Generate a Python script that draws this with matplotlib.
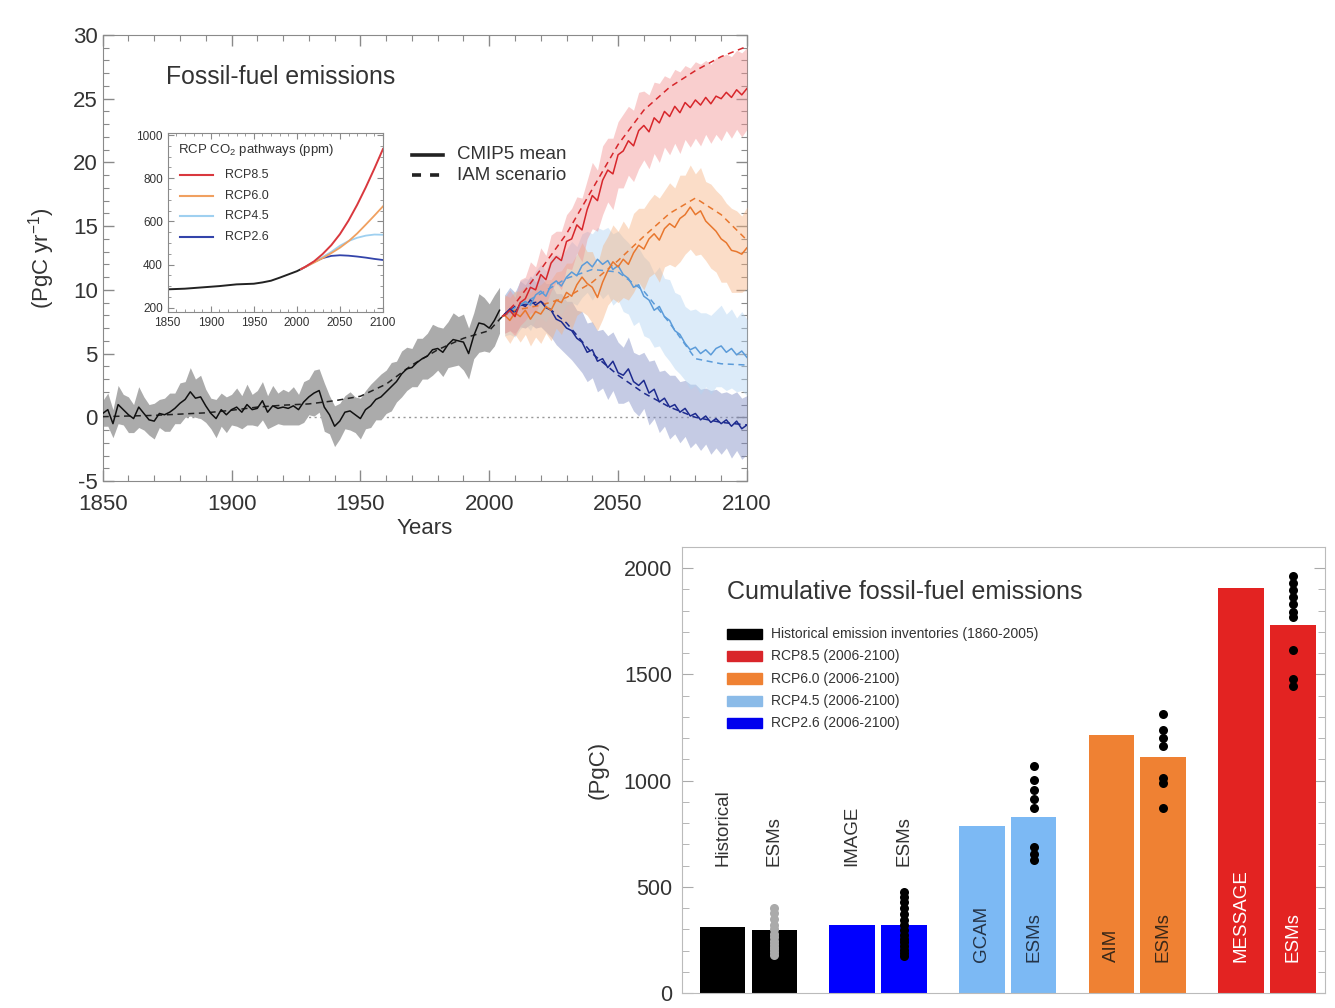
import numpy as np
import matplotlib
matplotlib.use('Agg')
import matplotlib.pyplot as plt
from matplotlib.patches import Rectangle
from matplotlib.ticker import MultipleLocator

plt.rcParams['font.family'] = ['Liberation Sans', 'DejaVu Sans']
plt.rcParams['mathtext.default'] = 'regular'
plt.rcParams['axes.unicode_minus'] = False

# ---------------- data: annual fossil-fuel emissions (PgC/yr) ----------------
hist_years = np.arange(1850, 2005, 2)
hist_mean = [0.3, 0.6, -0.5, 1.0, 0.6, 0.2, -0.1, 0.8, 0.3, -0.2,
             -0.3, 0.3, 0.2, 0.4, 0.7, 1.1, 1.4, 2.0, 1.5, 1.6,
             0.9, 0.3, -0.1, 0.6, 0.2, 0.6, 0.8, 0.4, 1.0, 0.6,
             0.7, 1.3, 0.4, 0.9, 0.7, 0.8, 0.7, 0.9, 0.6, 1.2,
             1.6, 1.9, 2.1, 0.8, 0.2, -0.7, -0.3, 0.4, 0.5, 0.2,
             -0.1, 0.6, 0.9, 1.4, 1.6, 2.0, 2.4, 2.8, 3.4, 3.8,
             3.9, 4.3, 4.6, 4.8, 5.3, 5.4, 5.1, 5.7, 6.1, 6.0,
             5.9, 5.0, 6.4, 7.4, 7.3, 7.0, 7.6, 8.4]
hist_spread = [1.0, 1.3, 1.1, 1.5, 1.2, 1.4, 1.1, 1.6, 1.3, 1.2,
               1.4, 1.1, 1.3, 1.5, 1.2, 1.6, 1.4, 1.9, 1.5, 1.7,
               1.3, 1.2, 1.5, 1.3, 1.4, 1.2, 1.5, 1.3, 1.6, 1.2,
               1.4, 1.5, 1.3, 1.6, 1.2, 1.4, 1.3, 1.5, 1.2, 1.6,
               1.4, 1.8, 1.7, 1.9, 1.5, 1.6, 1.4, 1.3, 1.5, 1.4,
               1.6, 1.5, 1.7, 1.6, 1.8, 1.7, 1.9, 1.6, 1.8, 1.7,
               1.5, 1.9, 1.6, 1.8, 2.0, 1.7, 1.9, 1.8, 2.1, 1.9,
               2.2, 2.0, 1.8, 2.3, 2.1, 1.9, 2.0, 1.8]

inv_years = [1850, 1860, 1870, 1880, 1890, 1900, 1910, 1920, 1930, 1940,
             1950, 1960, 1970, 1980, 1990, 2000, 2005]
inv_emis = [0.05, 0.1, 0.15, 0.25, 0.35, 0.55, 0.8, 0.95, 1.05, 1.3,
            1.65, 2.6, 4.1, 5.3, 6.2, 6.8, 7.9]

scen_years = np.arange(2006, 2101, 2)
rcp85_mean = [8.0, 8.4, 7.9, 9.0, 9.3, 10.2, 10.0, 11.2, 10.8, 12.1,
              12.6, 12.3, 13.8, 14.0, 15.1, 14.7, 16.3, 17.4, 17.0, 18.6,
              19.4, 19.1, 20.6, 20.9, 21.7, 21.3, 22.5, 22.9, 22.4, 23.5,
              23.1, 24.0, 23.6, 24.4, 23.9, 24.7, 24.3, 24.9, 24.5, 25.1,
              24.6, 25.2, 25.0, 25.5, 25.1, 25.7, 25.3, 25.8]
rcp85_spread = [1.4, 1.6, 1.5, 1.8, 1.7, 2.0, 1.8, 2.1, 1.9, 2.2,
                2.0, 2.3, 2.1, 2.4, 2.2, 2.5, 2.3, 2.6, 2.4, 2.7,
                2.5, 2.8, 2.6, 2.9, 2.7, 2.8, 3.0, 2.7, 2.9, 2.8,
                3.1, 2.8, 3.0, 2.9, 3.2, 2.9, 3.1, 3.0, 3.2, 2.9,
                3.1, 3.0, 3.3, 3.0, 3.2, 3.1, 3.3, 3.2]
rcp60_mean = [8.0, 7.6, 8.2, 7.9, 8.4, 7.7, 8.3, 8.1, 8.7, 8.4,
              9.2, 9.0, 9.8, 9.5, 10.4, 11.0, 10.5, 10.2, 9.4, 10.6,
              11.5, 12.2, 11.8, 12.4, 12.0, 12.9, 13.5, 13.2, 14.0, 14.4,
              13.9, 14.8, 15.2, 14.9, 15.6, 15.9, 16.5, 15.9, 16.2, 15.4,
              15.0, 14.6, 14.0, 13.7, 13.1, 13.0, 12.8, 13.3]
rcp60_spread = [1.6, 1.8, 1.7, 2.0, 1.9, 2.1, 2.0, 2.3, 2.1, 2.4,
                2.2, 2.5, 2.3, 2.6, 2.4, 2.7, 2.5, 2.8, 2.6, 2.9,
                2.7, 2.9, 2.8, 3.0, 2.8, 3.1, 2.9, 3.2, 3.0, 3.1,
                3.3, 3.0, 3.2, 3.1, 3.4, 3.1, 3.3, 3.2, 3.4, 3.1,
                3.3, 3.2, 3.4, 3.1, 3.3, 3.2, 3.0, 3.2]
rcp45_mean = [8.0, 8.3, 8.0, 8.8, 9.1, 8.8, 9.6, 9.9, 9.5, 10.4,
              10.7, 10.3, 11.0, 11.4, 11.1, 11.9, 12.2, 11.8, 12.4, 12.0,
              12.3, 11.6, 11.9, 11.2, 10.9, 10.2, 10.4, 9.5, 9.2, 8.4,
              8.7, 7.9, 7.6, 6.8, 6.5, 5.8, 5.3, 5.5, 5.0, 5.3,
              4.9, 5.4, 5.6, 5.1, 5.4, 4.9, 5.2, 4.7]
rcp45_spread = [1.6, 1.8, 1.7, 1.9, 1.8, 2.0, 1.9, 2.1, 2.0, 2.2,
                2.1, 2.3, 2.2, 2.4, 2.3, 2.5, 2.4, 2.6, 2.5, 2.7,
                2.6, 2.8, 2.7, 2.9, 2.8, 3.0, 2.9, 3.1, 3.0, 2.9,
                3.1, 3.0, 3.2, 3.0, 3.1, 2.9, 3.1, 3.0, 3.2, 2.9,
                3.1, 3.0, 3.2, 3.0, 3.1, 2.9, 3.1, 3.0]
rcp26_mean = [8.1, 8.5, 8.2, 8.9, 8.7, 9.2, 8.8, 9.1, 8.6, 8.4,
              7.7, 7.5, 7.0, 6.8, 6.2, 5.9, 5.1, 5.3, 4.4, 4.6,
              3.9, 4.4, 3.5, 3.3, 3.8, 2.8, 2.5, 2.9, 1.9, 2.2,
              1.2, 1.5, 0.8, 1.0, 0.4, 0.7, 0.1, 0.3, -0.2, 0.1,
              -0.4, -0.1, -0.5, -0.2, -0.7, -0.3, -0.9, -0.6]
rcp26_spread = [1.5, 1.7, 1.6, 1.8, 1.7, 1.9, 1.8, 2.0, 1.9, 2.1,
                2.0, 2.2, 2.1, 2.3, 2.2, 2.4, 2.3, 2.2, 2.4, 2.3,
                2.5, 2.3, 2.4, 2.2, 2.5, 2.3, 2.4, 2.2, 2.5, 2.3,
                2.4, 2.2, 2.5, 2.3, 2.4, 2.2, 2.5, 2.3, 2.4, 2.2,
                2.5, 2.3, 2.4, 2.2, 2.5, 2.3, 2.4, 2.3]

iam_years = [2005, 2010, 2020, 2030, 2040, 2050, 2060, 2070, 2080, 2090, 2100]
iam_rcp85 = [7.9, 8.9, 11.6, 14.4, 17.9, 21.4, 24.1, 25.9, 27.2, 28.3, 29.1]
iam_rcp60 = [7.9, 8.4, 8.8, 9.4, 10.6, 12.3, 14.2, 16.0, 17.2, 15.9, 13.9]
iam_rcp45 = [7.9, 8.6, 9.7, 10.9, 11.6, 11.4, 9.9, 7.4, 4.6, 4.2, 4.1]
iam_rcp26 = [7.9, 8.7, 9.1, 7.4, 5.0, 3.3, 1.9, 0.8, 0.0, -0.4, -0.6]

# ---------------- data: CO2 concentration pathways (ppm) ----------------
conc_hist_years = [1850, 1870, 1890, 1910, 1930, 1950, 1960, 1970, 1980, 1990, 2000, 2005]
conc_hist = [285, 288, 294, 300, 308, 311, 317, 325, 339, 354, 369, 379]
conc_years = [2005, 2010, 2020, 2030, 2040, 2050, 2060, 2070, 2080, 2090, 2100]
conc_rcp85 = [379, 390, 415, 449, 490, 541, 604, 677, 758, 845, 936]
conc_rcp60 = [379, 389, 409, 430, 453, 478, 508, 544, 585, 627, 670]
conc_rcp45 = [379, 389, 412, 435, 459, 487, 509, 524, 534, 539, 538]
conc_rcp26 = [379, 389, 412, 430, 440, 443, 441, 437, 432, 426, 421]

# ---------------- data: cumulative emissions (PgC) ----------------
model_names = ['Historical', 'IMAGE', 'GCAM', 'AIM', 'MESSAGE']
model_totals = [312, 322, 786, 1214, 1906]
esm_totals = [298, 318, 830, 1110, 1734]
esm_dots = [
    [178, 192, 205, 218, 232, 247, 262, 280, 300, 322, 348, 375, 402],
    [172, 188, 203, 220, 238, 256, 275, 296, 320, 345, 372, 400, 428, 452, 474],
    [1068, 1005, 958, 915, 872, 688, 655, 628],
    [1312, 1240, 1200, 1165, 1010, 990, 870],
    [1962, 1928, 1896, 1862, 1830, 1795, 1768, 1614, 1478, 1445],
]
legend_labels = ['Historical emission inventories (1860-2005)', 'RCP8.5 (2006-2100)',
                 'RCP6.0 (2006-2100)', 'RCP4.5 (2006-2100)', 'RCP2.6 (2006-2100)']

# ---------------- styles ----------------
txt = '#333333'
frame = '#8a8a8a'
scen = [  # mean, spread, iam, line colour, band colour, band alpha
    (rcp26_mean, rcp26_spread, iam_rcp26, '#1d2b8f', '#7f8cc4', 0.45),
    (rcp45_mean, rcp45_spread, iam_rcp45, '#5b9bd9', '#b3d4f2', 0.45),
    (rcp60_mean, rcp60_spread, iam_rcp60, '#e8772e', '#f6b07c', 0.42),
    (rcp85_mean, rcp85_spread, iam_rcp85, '#d7262b', '#f29494', 0.45),
]
bar_colors = ['black', '#0000ff', '#7cb9f4', '#ef8133', '#e32322']
legend_colors = ['black', '#d9252a', '#ef8133', '#8bbbe8', '#0000ee']
label_colors = [txt, txt, '#253447', '#3a2818', 'white']

fig = plt.figure(figsize=(13.35, 10.08), dpi=100)

# ================= top panel =================
ax = fig.add_axes([0.0769, 0.5228, 0.4826, 0.4425])
ax.axhline(0, color='#999999', ls=(0, (1.5, 2.5)), lw=1, zorder=1)

ax.fill_between(hist_years, np.array(hist_mean) - hist_spread,
                np.array(hist_mean) + hist_spread, color='#ababab', lw=0, zorder=2)
for mean, spread, iam, lc, bc, al in scen:
    m = np.array(mean)
    ax.fill_between(scen_years, m - spread, m + spread, color=bc, alpha=al, lw=0, zorder=3)
ax.plot(inv_years, inv_emis, color='#222222', ls=(0, (4, 3)), lw=1.1, zorder=4)
ax.plot(hist_years, hist_mean, color='#111111', lw=1.1, zorder=5)
for mean, spread, iam, lc, bc, al in scen:
    ax.plot(iam_years, iam, color=lc, ls=(0, (4, 3)), lw=1.1, zorder=5)
    ax.plot(scen_years, mean, color=lc, lw=1.1, zorder=6)

ax.set_xlim(1850, 2100)
ax.set_ylim(-5, 30)
ax.xaxis.set_major_locator(MultipleLocator(50))
ax.xaxis.set_minor_locator(MultipleLocator(10))
ax.yaxis.set_major_locator(MultipleLocator(5))
ax.yaxis.set_minor_locator(MultipleLocator(1))
ax.tick_params(which='both', direction='in', top=True, right=True, colors=frame,
               labelcolor=txt, labelsize=16)
ax.tick_params(which='major', length=8, width=1)
ax.tick_params(which='minor', length=4, width=0.8)
ax.tick_params(axis='x', pad=9)
for s in ax.spines.values():
    s.set_color(frame)
ax.set_xlabel('Years', fontsize=16, color=txt)
ax.xaxis.set_label_coords(0.5, -0.082)
ax.set_ylabel('(PgC yr$^{-1}$)', fontsize=16, color=txt)
ax.yaxis.set_label_coords(-0.071, 0.5)

ax.text(0.098, 0.906, 'Fossil-fuel emissions', transform=ax.transAxes,
        fontsize=17.8, color=txt, va='center')
ax.plot([0.480, 0.528], [0.731, 0.731], transform=ax.transAxes, color='#222222', lw=2.6)
ax.plot([0.480, 0.528], [0.686, 0.686], transform=ax.transAxes, color='#222222', lw=2.6,
        ls=(0, (2.5, 2.5)))
ax.text(0.550, 0.731, 'CMIP5 mean', transform=ax.transAxes, fontsize=13.5, color=txt, va='center')
ax.text(0.550, 0.686, 'IAM scenario', transform=ax.transAxes, fontsize=13.5, color=txt, va='center')

# ---------------- inset ----------------
ins = fig.add_axes([0.1256, 0.6905, 0.1613, 0.1776])
ins.plot(conc_hist_years, conc_hist, color='#222222', lw=1.4)
ins.plot(conc_years, conc_rcp26, color='#3344aa', lw=1.3)
ins.plot(conc_years, conc_rcp45, color='#9fd0f0', lw=1.3)
ins.plot(conc_years, conc_rcp60, color='#f0a060', lw=1.3)
ins.plot(conc_years, conc_rcp85, color='#d9383e', lw=1.4)
ins.set_xlim(1850, 2100)
ins.set_ylim(180, 1010)
ins.xaxis.set_major_locator(MultipleLocator(50))
ins.xaxis.set_minor_locator(MultipleLocator(10))
ins.yaxis.set_major_locator(MultipleLocator(200))
ins.yaxis.set_minor_locator(MultipleLocator(50))
ins.tick_params(which='both', direction='in', top=True, right=True, colors=frame,
                labelcolor=txt, labelsize=8.5)
ins.tick_params(which='major', length=4, width=0.8)
ins.tick_params(which='minor', length=2, width=0.6)
for s in ins.spines.values():
    s.set_color(frame)
ins.text(0.048, 0.905, 'RCP CO$_2$ pathways (ppm)', transform=ins.transAxes,
         fontsize=9.5, color=txt, va='center')
inset_names = ['RCP8.5', 'RCP6.0', 'RCP4.5', 'RCP2.6']
inset_cols = ['#d9383e', '#f0a060', '#9fd0f0', '#3344aa']
for i, (nm, c) in enumerate(zip(inset_names, inset_cols)):
    yy = 0.765 - i * 0.115
    ins.plot([0.057, 0.21], [yy, yy], transform=ins.transAxes, color=c, lw=1.5)
    ins.text(0.266, yy, nm, transform=ins.transAxes, fontsize=9, color=txt, va='center')

# ================= bottom panel =================
bx = fig.add_axes([0.5106, 0.0149, 0.4819, 0.4425])
group_pos = np.array([0, 2.5, 5, 7.5, 10])
bx.bar(group_pos, model_totals, width=0.88, color=bar_colors, zorder=2)
bx.bar(group_pos + 1, esm_totals, width=0.88, color=bar_colors, zorder=2)
for i, dots in enumerate(esm_dots):
    c = '#aaaaaa' if i == 0 else 'black'
    bx.plot([group_pos[i] + 1] * len(dots), dots, 'o', color=c, ms=6.5, mec='none', zorder=3)

for i, nm in enumerate(model_names):
    if model_totals[i] < 500:
        yb, col = 600, txt
    else:
        yb, col = 148, label_colors[i]
    bx.text(group_pos[i], yb, nm, rotation=90, ha='center', va='bottom',
            fontsize=13.5, color=col, zorder=4)
    bx.text(group_pos[i] + 1, yb, 'ESMs', rotation=90, ha='center', va='bottom',
            fontsize=13.5, color=col, zorder=4)

bx.set_xlim(-0.79, 11.62)
bx.set_ylim(0, 2100)
bx.set_xticks([])
bx.yaxis.set_major_locator(MultipleLocator(500))
bx.yaxis.set_minor_locator(MultipleLocator(100))
bx.tick_params(axis='y', which='both', direction='in', right=True, colors='#aaaaaa',
               labelcolor=txt, labelsize=15.5, pad=7)
bx.tick_params(axis='y', which='major', length=8)
bx.tick_params(axis='y', which='minor', length=5)
for s in bx.spines.values():
    s.set_color('#bbbbbb')
bx.set_ylabel('(PgC)', fontsize=16, color=txt)
bx.yaxis.set_label_coords(-0.113, 0.5)

bx.text(0.0704, 0.899, 'Cumulative fossil-fuel emissions', transform=bx.transAxes,
        fontsize=18, color=txt, va='center')
for i, (lab, c) in enumerate(zip(legend_labels, legend_colors)):
    yy = 0.805 - i * 0.05
    bx.add_patch(Rectangle((0.0704, yy - 0.0115), 0.0544, 0.023, transform=bx.transAxes,
                           color=c, zorder=5))
    bx.text(0.1386, yy, lab, transform=bx.transAxes, fontsize=10, color=txt, va='center')

fig.savefig('out.png', dpi=100)
